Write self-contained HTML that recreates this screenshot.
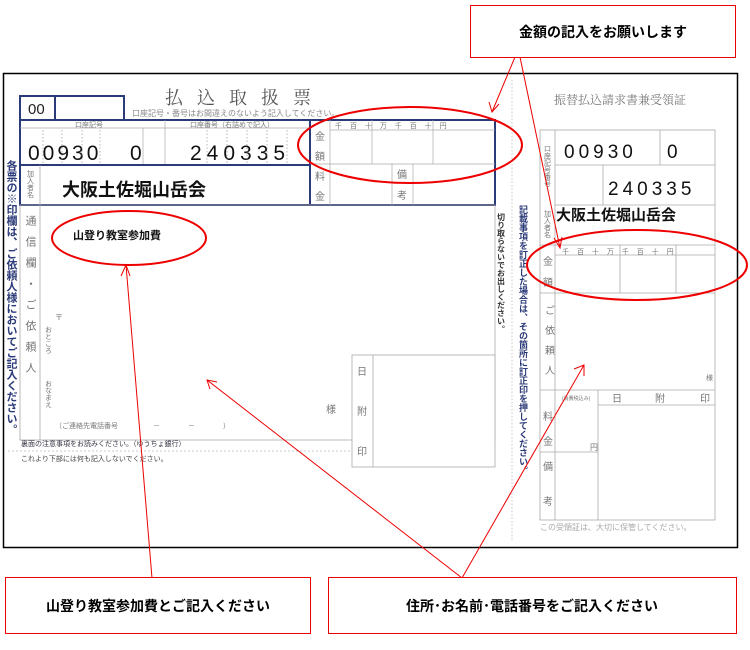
<!DOCTYPE html>
<html><head><meta charset="utf-8"><style>
html,body{margin:0;padding:0;background:#fff;}
svg{display:block;font-family:"Liberation Sans","Noto Sans CJK JP",sans-serif;}
.v{writing-mode:vertical-rl;}
.g{fill:#777;}
</style></head><body>
<svg width="750" height="650" viewBox="0 0 750 650" xmlns="http://www.w3.org/2000/svg">
<rect x="3.5" y="73.5" width="734" height="474" fill="#fff" stroke="#000" stroke-width="1.5"/>

<text x="165" y="104" font-size="18" fill="#555" letter-spacing="14" font-family="'Noto Serif CJK SC',serif">払込取扱票</text>
<text x="132" y="116" font-size="8" fill="#888">口座記号・番号はお間違えのないよう記入してください。</text>

<rect x="20" y="96" width="35" height="24" fill="none" stroke="#2b3a78" stroke-width="2"/>
<rect x="55" y="96" width="69" height="24" fill="none" stroke="#2b3a78" stroke-width="2"/>
<text x="28" y="114" font-size="15" fill="#222">00</text>

<rect x="20" y="120" width="290" height="45" fill="none" stroke="#2b3a78" stroke-width="2"/>
<line x1="20" y1="128" x2="310" y2="128" stroke="#aaa" stroke-width="0.7"/>
<line x1="165" y1="120" x2="165" y2="165" stroke="#aaa" stroke-width="0.7"/>
<line x1="143" y1="128" x2="143" y2="165" stroke="#aaa" stroke-width="0.7"/>
<text x="75" y="127" font-size="7" class="g">口座記号</text>
<text x="190" y="127" font-size="7" class="g">口座番号（右詰めで記入）</text>
<text x="28" y="160" font-size="21" fill="#111" letter-spacing="3">00930</text>
<text x="130" y="160" font-size="21" fill="#111">0</text>
<text x="190" y="160" font-size="21" fill="#111" letter-spacing="5">240335</text>
<g stroke="#999" stroke-dasharray="1.5,2" stroke-width="0.7">
<line x1="43" y1="130" x2="43" y2="165"/><line x1="62" y1="130" x2="62" y2="165"/><line x1="82" y1="130" x2="82" y2="165"/><line x1="100" y1="130" x2="100" y2="165"/>
<line x1="207" y1="130" x2="207" y2="165"/><line x1="227" y1="130" x2="227" y2="165"/><line x1="247" y1="130" x2="247" y2="165"/><line x1="267" y1="130" x2="267" y2="165"/><line x1="287" y1="130" x2="287" y2="165"/>
</g>

<rect x="310" y="120" width="185" height="85" fill="none" stroke="#2b3a78" stroke-width="2"/>
<line x1="330" y1="120" x2="330" y2="205" stroke="#aaa" stroke-width="0.7"/>
<line x1="330" y1="130" x2="495" y2="130" stroke="#aaa" stroke-width="0.7"/>
<line x1="310" y1="164" x2="495" y2="164" stroke="#aaa" stroke-width="0.7"/>
<line x1="372" y1="120" x2="372" y2="164" stroke="#aaa" stroke-width="0.7"/>
<line x1="433" y1="120" x2="433" y2="164" stroke="#aaa" stroke-width="0.7"/>
<line x1="392" y1="164" x2="392" y2="205" stroke="#aaa" stroke-width="0.7"/>
<line x1="413" y1="164" x2="413" y2="205" stroke="#aaa" stroke-width="0.7"/>
<text x="335" y="128" font-size="7" class="g" letter-spacing="3">千 百 十 万 千 百 十 円</text>
<text x="315" y="140" font-size="10" class="g">金</text><text x="315" y="160" font-size="10" class="g">額</text>
<text x="315" y="180" font-size="10" class="g">料</text><text x="315" y="200" font-size="10" class="g">金</text>
<text x="397" y="178" font-size="10" class="g">備</text><text x="397" y="199" font-size="10" class="g">考</text>

<rect x="20" y="165" width="290" height="40" fill="none" stroke="#2b3a78" stroke-width="2"/>
<line x1="40" y1="165" x2="40" y2="440" stroke="#aaa" stroke-width="0.8"/>
<text x="30" y="170" font-size="7" class="v g">加入者名</text>
<text x="62" y="196" font-size="18" fill="#111" font-weight="bold">大阪土佐堀山岳会</text>

<rect x="20" y="205" width="475" height="235" fill="none" stroke="#aaa" stroke-width="0.8"/>
<text x="30" y="215" font-size="11" class="v g" letter-spacing="10">通信欄・ご依頼人</text>
<text x="73" y="239" font-size="11" fill="#111" font-weight="bold">山登り教室参加費</text>
<text x="55" y="320" font-size="8" class="g">〒</text>
<text x="48" y="326" font-size="7" class="v g">おところ</text>
<text x="48" y="380" font-size="7" class="v g">おなまえ</text>
<text x="55" y="428" font-size="7" class="g">（ご連絡先電話番号　　　　　－　　　　－　　　　）</text>
<text x="326" y="413" font-size="10" class="g">様</text>
<rect x="352" y="355" width="143" height="112" fill="#fff" stroke="#aaa" stroke-width="0.8"/>
<line x1="373" y1="355" x2="373" y2="467" stroke="#aaa" stroke-width="0.8"/>
<text x="357" y="375" font-size="10" class="g">日</text><text x="357" y="415" font-size="10" class="g">附</text><text x="357" y="455" font-size="10" class="g">印</text>
<text x="21" y="446" font-size="7" fill="#334">裏面の注意事項をお読みください。（ゆうちょ銀行）</text>
<line x1="8" y1="451" x2="350" y2="451" stroke="#bbb" stroke-dasharray="2,2" stroke-width="0.7"/>
<text x="21" y="461" font-size="7" fill="#444">これより下部には何も記入しないでください。</text>

<text x="11" y="160" font-size="11" font-weight="bold" fill="#2b3a78" class="v">各票の※印欄は、ご依頼人様においてご記入ください。</text>

<line x1="512" y1="80" x2="512" y2="540" stroke="#bbb" stroke-dasharray="1.5,2" stroke-width="0.8"/>
<text x="501" y="213" font-size="8" fill="#333" class="v" font-weight="bold">切り取らないでお出しください。</text>
<text x="523" y="205" font-size="9" fill="#2b3a78" class="v" font-weight="bold">記載事項を訂正した場合は、その箇所に訂正印を押してください。</text>

<text x="554" y="104" font-size="12" fill="#777" font-family="'Noto Serif CJK SC',serif">振替払込請求書兼受領証</text>
<rect x="540" y="130" width="175" height="390" fill="none" stroke="#aaa" stroke-width="0.8"/>
<line x1="555" y1="130" x2="555" y2="520" stroke="#aaa" stroke-width="0.8"/>
<line x1="555" y1="165" x2="715" y2="165" stroke="#aaa" stroke-width="0.8"/>
<line x1="555" y1="205" x2="715" y2="205" stroke="#aaa" stroke-width="0.8"/>
<line x1="540" y1="245" x2="715" y2="245" stroke="#aaa" stroke-width="0.8"/>
<line x1="555" y1="255" x2="715" y2="255" stroke="#aaa" stroke-width="0.8"/>
<line x1="540" y1="293" x2="715" y2="293" stroke="#aaa" stroke-width="0.8"/>
<line x1="540" y1="390" x2="715" y2="390" stroke="#aaa" stroke-width="0.8"/>
<line x1="540" y1="452" x2="598" y2="452" stroke="#aaa" stroke-width="0.8"/>
<line x1="598" y1="390" x2="598" y2="520" stroke="#aaa" stroke-width="0.8"/>
<line x1="598" y1="405" x2="715" y2="405" stroke="#aaa" stroke-width="0.8"/>
<line x1="620" y1="245" x2="620" y2="293" stroke="#aaa" stroke-width="0.8"/>
<line x1="676" y1="245" x2="676" y2="293" stroke="#aaa" stroke-width="0.8"/>
<line x1="603" y1="165" x2="603" y2="205" stroke="#aaa" stroke-width="0.8"/>
<line x1="660" y1="130" x2="660" y2="165" stroke="#aaa" stroke-width="0.8"/>
<text x="547" y="145" font-size="7" class="v g">口座記号番号</text>
<text x="547" y="210" font-size="7" class="v g">加入者名</text>
<text x="564" y="158" font-size="19" fill="#111" letter-spacing="4">00930</text>
<text x="667" y="158" font-size="19" fill="#111">0</text>
<text x="608" y="195" font-size="19" fill="#111" letter-spacing="4">240335</text>
<text x="556" y="220" font-size="15" fill="#111" font-weight="bold">大阪土佐堀山岳会</text>
<text x="562" y="254" font-size="7" class="g" letter-spacing="3">千 百 十 万 千 百 十 円</text>
<text x="543" y="265" font-size="10" class="g">金</text><text x="543" y="286" font-size="10" class="g">額</text>
<text x="548" y="305" font-size="10" class="v g" letter-spacing="10">ご依頼人</text>
<text x="706" y="380" font-size="7" class="g">様</text>
<text x="543" y="420" font-size="10" class="g">料</text><text x="543" y="445" font-size="10" class="g">金</text>
<text x="543" y="470" font-size="10" class="g">備</text><text x="543" y="505" font-size="10" class="g">考</text>
<text x="562" y="400" font-size="5" class="g">(消費税込み)</text>
<text x="590" y="450" font-size="8" class="g">円</text>
<text x="612" y="402" font-size="10" class="g">日</text><text x="655" y="402" font-size="10" class="g">附</text><text x="700" y="402" font-size="10" class="g">印</text>
<text x="540" y="530" font-size="8" fill="#aaa">この受領証は、大切に保管してください。</text>

<g fill="none" stroke="#e00" stroke-width="2">
<ellipse cx="410" cy="145" rx="112" ry="38"/>
<ellipse cx="129" cy="238" rx="77" ry="27"/>
<ellipse cx="637" cy="265" rx="110" ry="35"/>
</g>

<g stroke="#e00" stroke-width="1" fill="none">
<line x1="515" y1="57" x2="492" y2="112"/><polyline points="489,102 492,112 499,104"/>
<line x1="520" y1="57" x2="560" y2="248"/><polyline points="554,238 560,248 562,237"/>
<line x1="152" y1="578" x2="126" y2="265"/><polyline points="121,276 126,265 130,276"/>
<line x1="462" y1="578" x2="207" y2="380"/><polyline points="210,389 207,380 217,382"/>
<line x1="462" y1="578" x2="584" y2="365"/><polyline points="574,369 584,365 584,376"/>
</g>

<rect x="470.5" y="5.5" width="265" height="52" fill="#fff" stroke="#e00" stroke-width="1"/>
<text x="603" y="37" font-size="14" font-weight="bold" fill="#000" text-anchor="middle">金額の記入をお願いします</text>
<rect x="5.5" y="577.5" width="305" height="56" fill="#fff" stroke="#e00" stroke-width="1"/>
<text x="158" y="611" font-size="14" font-weight="bold" fill="#000" text-anchor="middle">山登り教室参加費とご記入ください</text>
<rect x="328.5" y="577.5" width="408" height="56" fill="#fff" stroke="#e00" stroke-width="1"/>
<text x="532" y="611" font-size="14" font-weight="bold" fill="#000" text-anchor="middle">住所･お名前･電話番号をご記入ください</text>
</svg>
</body></html>
